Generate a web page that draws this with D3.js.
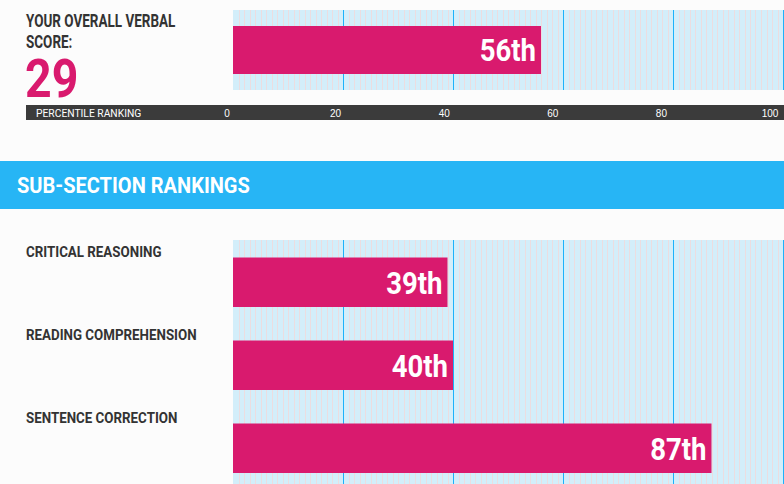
<!DOCTYPE html>
<html><head><meta charset="utf-8">
<script src="https://cdn.jsdelivr.net/npm/d3@7"></script>
<style>
html,body{margin:0;padding:0;background:#fcfcfc;}
svg{display:block;}
</style></head>
<body>
<script>
const overallTitle = ["YOUR OVERALL VERBAL", "SCORE:"];
const overallScore = "29";
const overallPercentile = 56;
const axisTitle = "PERCENTILE RANKING";
const tickValues = [0, 20, 40, 60, 80, 100];
const sectionTitle = "SUB-SECTION RANKINGS";
const categories = ["CRITICAL REASONING", "READING COMPREHENSION", "SENTENCE CORRECTION"];
const percentiles = [39, 40, 87];

const W = 784, H = 484;
const MAGENTA = "#d91a6e", BLUE = "#27b5f5", DARK = "#3b3b3b";
const FONT = "Roboto, 'Liberation Sans', sans-serif";

const svg = d3.select("body").append("svg").attr("width", W).attr("height", H);
svg.append("rect").attr("width", W).attr("height", H).attr("fill", "#fcfcfc");

// condense a group of texts horizontally by a common factor
function condense(sel, factor) {
  sel.each(function () {
    const w = this.getComputedTextLength();
    d3.select(this).attr("textLength", w * factor).attr("lengthAdjust", "spacingAndGlyphs");
  });
}

const x = d3.scaleLinear().domain([0, 100]).range([233, 783]);
const xLab = d3.scaleLinear().domain([0, 100]).range([227, 770]);
const minorTicks = d3.range(0, 101, 1);
const majorTicks = tickValues.filter(v => v > 0);

function gridPanel(y0, y1) {
  const g = svg.append("g");
  g.append("rect").attr("x", x(0)).attr("y", y0).attr("width", W - x(0)).attr("height", y1 - y0).attr("fill", "#d3eefa");
  g.selectAll("rect.minor").data(minorTicks.filter(v => v % 20 !== 0)).join("rect")
    .attr("class", "minor")
    .attr("x", d => Math.round(x(d))).attr("width", 1)
    .attr("y", y0).attr("height", y1 - y0).attr("fill", "#ecdde0");
  g.selectAll("rect.major").data(majorTicks).join("rect")
    .attr("class", "major")
    .attr("x", d => Math.round(x(d))).attr("width", 1)
    .attr("y", y0).attr("height", y1 - y0).attr("fill", "#1cb2fb");
  return g;
}

// Top section
const t1 = svg.selectAll("text.title").data(overallTitle).join("text")
  .attr("x", 26).attr("y", (d, i) => 26.5 + i * 21.5)
  .attr("font-family", FONT).attr("font-weight", "bold").attr("font-size", 17.5)
  .attr("fill", "#333").text(d => d);
condense(t1, 0.77);
const sc = svg.append("text").attr("x", 25).attr("y", 96.5)
  .attr("font-family", FONT).attr("font-weight", "bold").attr("font-size", 54)
  .attr("fill", MAGENTA).text(overallScore);
condense(sc, 0.86);

gridPanel(10, 90);
const barTop = svg.append("g");
barTop.append("rect").attr("x", x(0)).attr("y", 26).attr("width", x(overallPercentile) - x(0)).attr("height", 48).attr("fill", MAGENTA);
const lt = barTop.append("text").attr("x", x(overallPercentile) - 5).attr("y", 61)
  .attr("text-anchor", "end").attr("font-family", FONT).attr("font-weight", "bold")
  .attr("font-size", 32).attr("fill", "#fff").text(overallPercentile + "th");
condense(lt, 0.86);

// Axis band
svg.append("rect").attr("x", 26).attr("y", 105).attr("width", W - 26).attr("height", 15).attr("fill", DARK);
const at = svg.append("text").attr("x", 36).attr("y", 116.5).attr("font-family", FONT).attr("font-size", 10.5)
  .attr("fill", "#fff").text(axisTitle);
condense(at, 0.98);
svg.selectAll("text.tick").data(tickValues).join("text")
  .attr("x", d => xLab(d)).attr("y", 116.5).attr("text-anchor", "middle")
  .attr("font-family", "'Liberation Sans',sans-serif").attr("font-size", 10).attr("fill", "#fff")
  .text(d => d);

// Section band
svg.append("rect").attr("x", 0).attr("y", 161).attr("width", W).attr("height", 48).attr("fill", BLUE);
const st = svg.append("text").attr("x", 17).attr("y", 193).attr("font-family", FONT).attr("font-weight", "bold")
  .attr("font-size", 22).attr("fill", "#fff").text(sectionTitle);
condense(st, 0.91);

// Sub-sections
gridPanel(240, 484);
const y = d3.scaleBand().domain(categories).range([240, 489]).paddingInner(0).paddingOuter(0);
const rows = svg.selectAll("g.row").data(categories.map((c, i) => ({c, v: percentiles[i]}))).join("g");
rows.append("rect").attr("x", x(0)).attr("y", d => y(d.c) + 17.5).attr("width", d => x(d.v) - x(0))
  .attr("height", 49.5).attr("fill", MAGENTA);
const bl = rows.append("text").attr("x", d => x(d.v) - 5).attr("y", d => y(d.c) + 54)
  .attr("text-anchor", "end").attr("font-family", FONT).attr("font-weight", "bold")
  .attr("font-size", 32).attr("fill", "#fff").text(d => d.v + "th");
condense(bl, 0.86);
const cl = rows.append("text").attr("x", 26).attr("y", d => y(d.c) + 17)
  .attr("font-family", FONT).attr("font-weight", "bold").attr("font-size", 15.5)
  .attr("fill", "#333").text(d => d.c);
condense(cl, 0.86);
</script>
</body></html>
